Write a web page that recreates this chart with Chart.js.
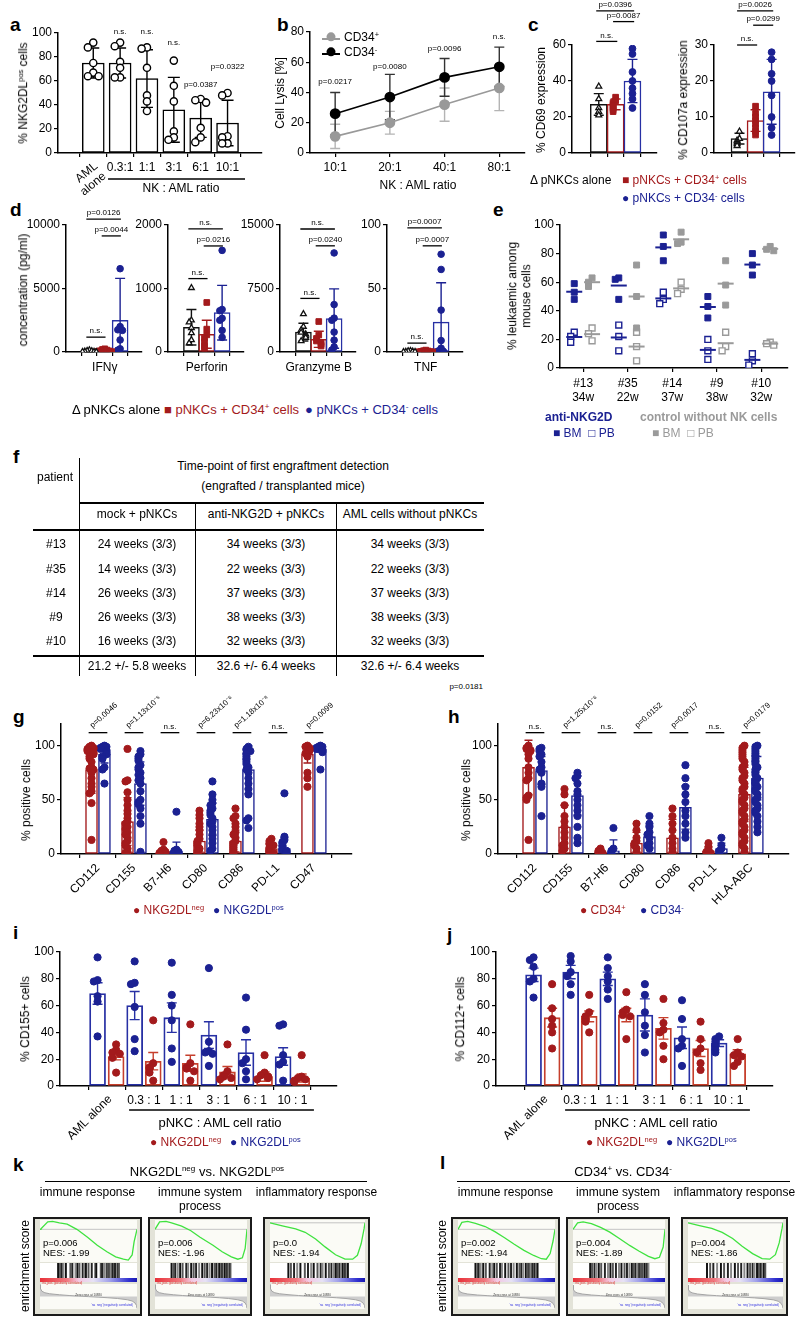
<!DOCTYPE html>
<html lang="en">
<head>
<meta charset="UTF-8">
<title>NKG2DL and CD34 panels</title>
<script src="https://cdn.jsdelivr.net/npm/chart.js"></script>
<style>
  body { margin: 0; background: #fff; font-family: 'Liberation Sans', Arial, sans-serif; color: #000; }
  #fig { position: relative; width: 800px; height: 1325px; overflow: hidden; background: #fff; }
  .t { position: absolute; white-space: nowrap; line-height: 1.15; }
  sup { font-size: 62%; line-height: 0; vertical-align: 0.6em; }
</style>
</head>
<body>
<div id="fig"></div>
<script>
// ---------------- data ----------------
// a
const aCats = ['AML alone', '0.3:1', '1:1', '3:1', '6:1', '10:1'];
const aMean = [75, 75, 62, 36, 29, 25];
const aSD = [12.5, 12.5, 24, 27, 16, 19];
const aPts = [[92, 88, 75, 67, 64, 64], [92, 89, 76, 71, 63, 63], [88, 87, 71, 48, 43, 35],
              [77, 56, 43, 18, 13, 11], [45, 44, 42, 21, 13, 9], [50, 48, 14, 13, 8, 8]];
const aSig = ['', 'n.s.', 'n.s.', 'n.s.', 'p=0.0387', 'p=0.0322'];
const aSigY = [0, 101, 101, 92, 57, 72];

// b
const bCats = ['10:1', '20:1', '40:1', '80:1'];
const bPos = [11, 20, 32, 43];
const bPosSD = [8, 7.5, 11, 15];
const bNeg = [26, 37, 50, 57];
const bNegSD = [14, 15, 12.5, 13];
const bSig = ['p=0.0217', 'p=0.0080', 'p=0.0096', 'n.s.'];
const bSigY = [47, 57, 69, 77];

// c
const c69Mean = [27, 27, 40];
const c69SD = [6, 3, 12];
const c69Pts = [[37, 30, 25, 23, 21], [31, 29, 28, 27, 26, 25, 24, 23], [58, 55, 45, 40, 36, 33, 30, 25]];
const c69Br = [[0, 2, 79, 'p=0.0396'], [1, 2, 73, 'p=0.0087'], [0, 1, 62, 'n.s.']];
const c107Mean = [4, 9, 17];
const c107SD = [1.5, 3, 9];
const c107Pts = [[6, 4, 3.5, 3, 2.5, 2], [13, 11, 10, 9, 8, 7, 6, 5], [28, 26, 22, 20, 16, 10, 7, 5]];
const c107Br = [[0, 2, 39.5, 'p=0.0026'], [1, 2, 35.5, 'p=0.0299'], [0, 1, 30, 'n.s.']];

// d
const dNames = ['IFNγ', 'Perforin', 'Granzyme B', 'TNF'];
const dMax = [10000, 2000, 15000, 100];
const dTicks = [[0, 5000, 10000], [0, 1000, 2000], [0, 7500, 15000], [0, 50, 100]];
const dMean = [[50, 120, 2500], [390, 280, 620], [2350, 1500, 3950], [0.5, 1, 23.5]];
const dSD = [[40, 80, 3300], [280, 220, 430], [1050, 950, 3500], [0.5, 0.6, 31]];
const dPts = [
  [[150, 100, 80, 50, 30, 20, 10], [250, 200, 150, 100, 80, 50, 30], [6560, 2000, 1750, 1700, 950, 250, 150]],
  [[1010, 500, 470, 380, 300, 190, 140], [780, 360, 270, 220, 160, 90, 60], [1600, 670, 650, 530, 500, 340, 230]],
  [[4500, 3000, 2600, 2300, 2100, 1900, 1700, 1300], [3600, 2000, 1600, 1300, 1100, 900, 700], [11700, 5600, 4000, 3750, 2350, 1400, 600, 230]],
  [[1, 0.8, 0.5, 0.3, 0.2, 0.1], [1.5, 1, 0.8, 0.5, 0.3, 0.2, 0.1], [77, 65, 33, 9, 3, 1, 0.5, 0.2]]
];
const dBr = [
  [[0, 2, 10470, 'p=0.0126'], [1, 2, 9140, 'p=0.0044'], [0, 1, 1170, 'n.s.']],
  [[0, 2, 1940, 'n.s.'], [1, 2, 1670, 'p=0.0216'], [0, 1, 1156, 'n.s.']],
  [[0, 2, 14530, 'n.s.'], [1, 2, 12540, 'p=0.0240'], [0, 1, 6330, 'n.s.']],
  [[0, 2, 97.7, 'p=0.0007'], [1, 2, 83.6, 'p=0.0007'], [0, 1, 7, 'n.s.']]
];

// e
const eCats = [['#13', '34w'], ['#35', '22w'], ['#14', '37w'], ['#9', '38w'], ['#10', '32w']];
const eAntiBM = [[59, 53, 48], [63, 62, 48], [93, 85, 75], [50, 43, 35], [80, 72, 65]];
const eAntiPB = [[25, 22, 18], [30, 22, 12], [53, 48, 45], [20, 12, 6], [10, 5, 2]];
const eCtrlBM = [[63, 60, 57], [72, 50, 28], [95, 88, 87], [75, 58, 44], [85, 83, 82]];
const eCtrlPB = [[28, 24, 19], [25, 15, 5], [60, 55, 52], [25, 15, 12], [18, 17, 16]];

// f
const fPatients = ['#13', '#35', '#14', '#9', '#10'];
const fMock = ['24 weeks (3/3)', '14 weeks (3/3)', '26 weeks (3/3)', '26 weeks (3/3)', '16 weeks (3/3)'];
const fAnti = ['34 weeks (3/3)', '22 weeks (3/3)', '37 weeks (3/3)', '38 weeks (3/3)', '32 weeks (3/3)'];
const fAml = ['34 weeks (3/3)', '22 weeks (3/3)', '37 weeks (3/3)', '38 weeks (3/3)', '32 weeks (3/3)'];
const fTotals = ['21.2 +/- 5.8 weeks', '32.6 +/- 6.4 weeks', '32.6 +/- 6.4 weeks'];

// g
const gCats = ['CD112', 'CD155', 'B7-H6', 'CD80', 'CD86', 'PD-L1', 'CD47'];
const gNegMean = [78, 30, 2, 12, 12, 5, 92];
const gNegSD = [22, 22, 3, 10, 10, 4, 8];
const gPosMean = [92, 65, 3, 32, 78, 5, 97];
const gPosSD = [8, 20, 8, 15, 22, 10, 3];
const gNegPts = [
  [100, 99, 98, 97, 97, 96, 95, 94, 93, 92, 90, 88, 85, 80, 79, 78, 75, 70, 65, 62, 58, 56, 47, 13],
  [97, 68, 67, 57, 50, 45, 40, 37, 33, 30, 28, 25, 23, 20, 18, 15, 12, 10, 8, 5, 2, 1],
  [11, 4, 3, 2, 1, 1, 0],
  [40, 36, 33, 28, 25, 22, 18, 14, 12, 10, 8, 5, 3, 1, 0],
  [42, 35, 33, 28, 25, 20, 18, 15, 12, 10, 8, 6, 4, 2, 1],
  [14, 12, 10, 9, 8, 6, 5, 3, 2, 1],
  [100, 99, 98, 97, 96, 95, 93, 90, 75, 70, 62]
];
const gPosPts = [
  [100, 99, 99, 98, 97, 96, 95, 94, 93, 92, 90, 88, 80, 78, 65],
  [95, 92, 90, 88, 86, 82, 80, 78, 75, 73, 70, 68, 65, 58, 50, 48, 46, 42, 35, 28, 2],
  [39, 4, 3, 2, 1, 0, 0],
  [67, 55, 50, 47, 45, 42, 40, 38, 36, 33, 30, 28, 25, 22, 18, 14, 10, 5, 3],
  [99, 97, 96, 95, 93, 92, 90, 88, 87, 85, 83, 80, 78, 75, 70, 65, 60, 55, 33, 31, 24],
  [56, 16, 13, 11, 10, 8, 7, 5, 4, 3, 2, 1],
  [100, 99, 99, 98, 97, 96, 95, 94, 78]
];
const gSig = ['p=0.0046', 'p=1.13x10⁻⁵', 'n.s.', 'p=6.23x10⁻⁶', 'p=1.18x10⁻⁸', 'n.s.', 'p=0.0099'];

// h
const hCats = ['CD112', 'CD155', 'B7-H6', 'CD80', 'CD86', 'PD-L1', 'HLA-ABC'];
const hNegMean = [80, 25, 2, 10, 15, 3, 55];
const hNegSD = [25, 20, 2, 10, 17, 4, 25];
const hPosMean = [77, 54, 3, 16, 43, 5, 70];
const hPosSD = [13, 18, 10, 10, 20, 5, 20];
const hNegPts = [
  [100, 98, 97, 96, 95, 92, 88, 80, 75, 70, 68, 54, 52, 50, 13],
  [60, 55, 45, 35, 30, 25, 20, 15, 10, 8, 5, 3],
  [5, 3, 2, 1, 0],
  [28, 22, 15, 12, 10, 8, 5, 2],
  [42, 35, 28, 22, 15, 10, 5, 2],
  [10, 6, 3, 2, 1],
  [100, 98, 96, 94, 92, 90, 88, 85, 82, 80, 78, 75, 72, 70, 68, 65, 62, 60, 58, 55, 52, 50, 48, 45, 42, 40, 38, 35, 32, 30, 28, 25, 22, 20, 18, 15, 12, 10, 8, 5, 2]
];
const hPosPts = [
  [98, 97, 95, 92, 90, 85, 80, 78, 75, 65, 62, 35],
  [75, 72, 70, 65, 58, 55, 50, 45, 40, 35, 25, 15, 10],
  [24, 5, 3, 1, 0],
  [35, 28, 25, 20, 18, 15, 10, 8, 5],
  [82, 70, 62, 55, 48, 40, 35, 28, 20, 15],
  [15, 8, 5, 3, 2, 0],
  [100, 99, 97, 95, 93, 91, 90, 88, 86, 85, 83, 80, 78, 76, 75, 73, 70, 68, 66, 65, 62, 60, 58, 55, 52, 50, 48, 45, 42, 40, 38, 35, 30, 25, 20]
];
const hSig = ['n.s.', 'p=1.25x10⁻⁶', 'n.s.', 'p=0.0152', 'p=0.0017', 'n.s.', 'p=0.0179'];

// i, j
const ratioCats = ['AML alone', '0.3 : 1', '1 : 1', '3 : 1', '6 : 1', '10 : 1'];
const iPosMean = [69, 60, 51, 38, 25, 22];
const iPosSEM = [8, 10.5, 11, 10, 9.5, 6.5];
const iNegMean = [22, 18.5, 17, 10.5, 7, 6];
const iNegSEM = [2.5, 6.5, 6, 4, 3.5, 3];
const iPosPts = [[96, 79, 78, 67, 63, 37], [93, 77, 76, 59, 35, 26], [92, 68, 60, 49, 28, 18],
                 [88, 33, 26, 25, 24, 15], [66, 42, 20, 17, 11, 5], [46, 45, 23, 18, 16, 4]];
const iNegPts = [[31, 27, 25, 24, 21, 10], [49, 17, 14, 13, 10, 4], [46, 17, 14, 13, 11, 4],
                 [31, 11, 8, 7, 6, 5], [23, 10, 8, 7, 6, 5], [23, 7, 6, 5, 4, 3]];
const jPosMean = [83, 85, 80, 53, 36, 32];
const jPosSEM = [5, 5, 5, 12, 8, 2.5];
const jNegMean = [51, 52, 53, 43, 28, 24];
const jNegSEM = [7, 4, 5, 8, 6, 3];
const jPosPts = [[96, 94, 89, 80, 78, 66], [97, 93, 85, 82, 76, 68], [96, 88, 82, 78, 72, 65],
                 [76, 68, 55, 45, 38, 25], [64, 50, 35, 30, 28, 15], [37, 35, 33, 30, 27, 25]];
const jNegPts = [[76, 58, 50, 45, 40, 28], [68, 55, 52, 50, 48, 40], [70, 57, 55, 53, 52, 35],
                 [65, 47, 42, 40, 30, 20], [48, 35, 28, 25, 17, 12], [35, 25, 23, 22, 18, 15]];

// k, l (GSEA)
const esK1X = [0, 0.01, 0.08, 0.13, 0.2, 0.28, 0.38, 0.49, 0.59, 0.69, 0.78, 0.86, 0.91, 0.95, 0.97, 1];
const esK1Y = [0, 0.01, 0.16, 0.17, 0.14, 0.11, 0, -0.17, -0.34, -0.48, -0.59, -0.64, -0.66, -0.55, -0.27, 0];
const esK2X = [0, 0.05, 0.12, 0.18, 0.29, 0.39, 0.49, 0.63, 0.73, 0.83, 0.9, 0.95, 0.98, 1];
const esK2Y = [0, 0.16, 0.17, 0.14, 0.07, -0.03, -0.17, -0.34, -0.48, -0.59, -0.64, -0.61, -0.41, 0];
const esK3X = [0, 0.13, 0.27, 0.37, 0.48, 0.58, 0.69, 0.79, 0.87, 0.92, 0.96, 0.99, 1];
const esK3Y = [0, -0.055, -0.11, -0.17, -0.29, -0.43, -0.57, -0.65, -0.65, -0.58, -0.37, -0.11, 0];
const esL1X = [0, 0.04, 0.1, 0.18, 0.28, 0.38, 0.48, 0.58, 0.68, 0.78, 0.86, 0.91, 0.95, 0.98, 1];
const esL1Y = [0, 0.15, 0.17, 0.13, 0.06, -0.05, -0.18, -0.32, -0.45, -0.56, -0.63, -0.64, -0.52, -0.25, 0];
const esL2X = [0, 0.05, 0.11, 0.2, 0.3, 0.4, 0.5, 0.62, 0.72, 0.82, 0.89, 0.94, 0.98, 1];
const esL2Y = [0, 0.14, 0.16, 0.12, 0.04, -0.06, -0.19, -0.35, -0.47, -0.58, -0.63, -0.6, -0.38, 0];
const esL3X = [0, 0.12, 0.25, 0.36, 0.47, 0.57, 0.68, 0.78, 0.86, 0.92, 0.96, 0.99, 1];
const esL3Y = [0, -0.05, -0.1, -0.17, -0.28, -0.42, -0.55, -0.64, -0.65, -0.57, -0.36, -0.1, 0];
const esRangeA = [-0.7, 0.2];
const esRangeB = [-0.7, 0.05];
const hitsK1 = [0.03, 0.06, 0.09, 0.11, 0.15, 0.22, 0.25, 0.3, 0.33, 0.36, 0.41, 0.44, 0.46, 0.5, 0.55, 0.6, 0.62, 0.69, 0.71, 0.74, 0.78, 0.79, 0.82, 0.84, 0.87, 0.89, 0.91, 0.94, 0.96, 0.97];
const hitsK2 = [0.02, 0.05, 0.08, 0.12, 0.16, 0.2, 0.26, 0.29, 0.34, 0.38, 0.42, 0.47, 0.52, 0.56, 0.6, 0.64, 0.68, 0.72, 0.75, 0.78, 0.8, 0.83, 0.85, 0.87, 0.89, 0.91, 0.93, 0.95, 0.97, 0.98];
const hitsK3 = [0.04, 0.08, 0.13, 0.18, 0.23, 0.3, 0.35, 0.4, 0.44, 0.5, 0.55, 0.58, 0.63, 0.68, 0.72, 0.76, 0.79, 0.82, 0.85, 0.87, 0.9, 0.92, 0.94, 0.96, 0.98];
const hitsL1 = [0.02, 0.05, 0.07, 0.1, 0.14, 0.18, 0.24, 0.28, 0.31, 0.35, 0.4, 0.43, 0.48, 0.53, 0.57, 0.61, 0.66, 0.7, 0.73, 0.76, 0.8, 0.82, 0.85, 0.87, 0.9, 0.92, 0.94, 0.96, 0.98];
const hitsL2 = [0.03, 0.06, 0.1, 0.13, 0.17, 0.21, 0.27, 0.32, 0.36, 0.4, 0.45, 0.5, 0.54, 0.59, 0.63, 0.67, 0.71, 0.74, 0.77, 0.8, 0.83, 0.85, 0.88, 0.9, 0.92, 0.94, 0.96, 0.98];
const hitsL3 = [0.05, 0.1, 0.15, 0.21, 0.27, 0.32, 0.38, 0.43, 0.49, 0.54, 0.59, 0.64, 0.69, 0.73, 0.77, 0.8, 0.84, 0.87, 0.9, 0.93, 0.95, 0.97];
const rankX = [0, 0.005, 0.02, 0.05, 0.1, 0.2, 0.3, 0.4, 0.5, 0.6, 0.7, 0.8, 0.9, 0.95, 0.98, 0.995, 1];
const rankK = [0.95, 0.62, 0.42, 0.3, 0.22, 0.14, 0.08, 0.03, -0.01, -0.05, -0.1, -0.16, -0.26, -0.36, -0.52, -0.72, -0.95];
const rankL = [0.9, 0.55, 0.38, 0.28, 0.2, 0.12, 0.07, 0.02, -0.02, -0.06, -0.11, -0.17, -0.27, -0.38, -0.55, -0.75, -0.95];
const gseaK = [['p=0.006', 'NES: -1.99'], ['p=0.006', 'NES: -1.96'], ['p=0.0', 'NES: -1.94']];
const gseaL = [['p=0.002', 'NES: -1.94'], ['p=0.004', 'NES: -1.89'], ['p=0.004', 'NES: -1.86']];
const gseaSets = ['immune response', 'immune system<br>process', 'inflammatory response'];

// ---------------- helpers ----------------
const RED = '#a31a1c', BLUE = '#1b2192', GRAY = '#9a9a9a', BLK = '#111';
const RED_B = '#c63f2c', BLUE_B = '#2730a4';
const FF = "'Liberation Sans', Arial, sans-serif";
const fig = document.getElementById('fig');

Chart.defaults.font.family = FF;
Chart.defaults.font.size = 12;
Chart.defaults.color = '#000';
Chart.defaults.animation = false;
Chart.defaults.responsive = false;
Chart.defaults.devicePixelRatio = 1;
Chart.defaults.plugins.legend.display = false;
Chart.defaults.plugins.tooltip.enabled = false;

function T(x, y, html, o = {}) {
  const d = document.createElement('div');
  d.className = 't';
  d.innerHTML = html;
  const ax = o.a === 'l' ? '0' : o.a === 'r' ? '-100%' : '-50%';
  d.style.left = x + 'px';
  d.style.top = y + 'px';
  d.style.transform = `translate(${ax},-50%)` + (o.rot ? ` rotate(${o.rot}deg)` : '');
  d.style.fontSize = (o.s || 12) + 'px';
  if (o.c) d.style.color = o.c;
  if (o.b) d.style.fontWeight = 'bold';
  if (o.ta) d.style.textAlign = o.ta;
  fig.appendChild(d);
}

function L(x1, y1, x2, y2, w = 1, c = '#000') {
  const d = document.createElement('div');
  d.style.cssText = `position:absolute;background:${c};left:${Math.min(x1, x2)}px;top:${Math.min(y1, y2)}px;` +
    `width:${Math.max(Math.abs(x2 - x1), w)}px;height:${Math.max(Math.abs(y2 - y1), w)}px`;
  fig.appendChild(d);
}

function mkCanvas(r, m) {
  const c = document.createElement('canvas');
  const w = r[1] - r[0] + m[0] + m[1], h = r[3] - r[2] + m[2] + m[3];
  c.width = w; c.height = h;
  c.style.cssText = `position:absolute;left:${r[0] - m[0]}px;top:${r[2] - m[2]}px;width:${w}px;height:${h}px`;
  fig.appendChild(c);
  return c;
}

const avg = a => a.reduce((s, v) => s + v, 0) / a.length;

// beeswarm-ish spread of points that sit close together
function swarm(vals, cx, step, d) {
  const placed = [];
  return vals.map(v => {
    const n = placed.filter(p => Math.abs(p - v) < d).length;
    placed.push(v);
    const k = n === 0 ? 0 : (n % 2 ? -1 : 1) * Math.ceil(n / 2);
    return { x: cx + k * step, y: v };
  });
}

function xAxis(min, max, pos, labels, o = {}) {
  return {
    type: 'linear', min, max, bounds: 'data',
    afterBuildTicks: s => { s.ticks = pos.map(v => ({ value: v })); },
    afterFit: s => { s.height = o.h; s.paddingLeft = 0; s.paddingRight = 0; },
    ticks: { autoSkip: false, maxRotation: o.rot || 0, minRotation: o.rot || 0, padding: o.pad ?? 3,
             font: { size: o.fs || 12 }, callback: (v, i) => labels[i] },
    grid: { drawOnChartArea: false, drawTicks: true, tickLength: o.tl ?? 4, color: '#000', lineWidth: 1.2 },
    border: { color: '#000', width: 1.5 }
  };
}

function yAxis(min, max, ticks, o = {}) {
  return {
    type: 'linear', min, max, bounds: 'data',
    afterBuildTicks: s => { s.ticks = ticks.map(v => ({ value: v })); },
    afterFit: s => { s.width = o.w; s.paddingTop = 0; s.paddingBottom = 0; },
    ticks: { padding: 2, font: { size: o.fs || 12 }, callback: v => String(v) },
    grid: { drawOnChartArea: false, drawTicks: true, tickLength: 4, color: '#000', lineWidth: 1.2 },
    border: { color: '#000', width: 1.5 }
  };
}

function opts(m, x, y) {
  return { layout: { padding: { left: 0, right: m[1], top: m[2], bottom: 0 } }, scales: { x, y } };
}

function barDs(data, colors, thick, bw) {
  return { type: 'bar', data, backgroundColor: '#fff', borderColor: colors, borderWidth: bw,
           barThickness: thick, grouped: false, borderSkipped: false, order: 9 };
}

function ptDs(data, c, shape, r, open, bw) {
  return { type: 'scatter', data, pointStyle: shape, pointRadius: r, pointBackgroundColor: open ? '#fff' : c,
           pointBorderColor: c, pointBorderWidth: bw || (open ? 1.3 : 1), order: 1 };
}

function drawErr(ch, list) {
  const ctx = ch.ctx, xs = ch.scales.x, ys = ch.scales.y;
  ctx.save();
  list.forEach(e => {
    const x = xs.getPixelForValue(e.x);
    const y1 = ys.getPixelForValue(Math.max(e.lo, ys.min)), y2 = ys.getPixelForValue(e.hi);
    ctx.strokeStyle = e.c; ctx.lineWidth = e.w || 1.4;
    ctx.beginPath();
    ctx.moveTo(x, y1); ctx.lineTo(x, y2);
    ctx.moveTo(x - e.cap, y2); ctx.lineTo(x + e.cap, y2);
    if (e.lo > ys.min) { ctx.moveTo(x - e.cap, y1); ctx.lineTo(x + e.cap, y1); }
    ctx.stroke();
  });
  ctx.restore();
}

// annotations drawn through the chart's own scales
const deco = {
  id: 'deco',
  beforeDraw(ch) {
    const d = ch.canvas._deco;
    if (d && d.bg) {
      const a = ch.chartArea;
      ch.ctx.save(); ch.ctx.fillStyle = d.bg;
      ch.ctx.fillRect(a.left, a.top, a.right - a.left, a.bottom - a.top);
      ch.ctx.restore();
    }
  },
  beforeDatasetsDraw(ch) {
    const d = ch.canvas._deco;
    if (d && d.hl) {
      const ctx = ch.ctx, ys = ch.scales.y, a = ch.chartArea;
      ctx.save();
      d.hl.forEach(h => {
        const y = ys.getPixelForValue(h.y);
        ctx.strokeStyle = h.c; ctx.lineWidth = 1;
        ctx.beginPath(); ctx.moveTo(a.left, y); ctx.lineTo(a.right, y); ctx.stroke();
      });
      ctx.restore();
    }
    if (d && d.err && !d.errAfterBar) drawErr(ch, d.err);
  },
  afterDatasetDraw(ch, args) {
    const d = ch.canvas._deco;
    if (d && d.err && d.errAfterBar && args.index === 0) drawErr(ch, d.err);
  },
  afterDraw(ch) {
    const d = ch.canvas._deco;
    if (!d) return;
    const ctx = ch.ctx, xs = ch.scales.x, ys = ch.scales.y, bot = ch.chartArea.bottom;
    ctx.save();
    (d.means || []).forEach(mn => {
      const x = xs.getPixelForValue(mn.x), y = ys.getPixelForValue(mn.y);
      ctx.strokeStyle = mn.c; ctx.lineWidth = 2;
      ctx.beginPath(); ctx.moveTo(x - mn.hw, y); ctx.lineTo(x + mn.hw, y); ctx.stroke();
    });
    (d.brk || []).forEach(b => {
      const x1 = xs.getPixelForValue(b.x1), x2 = xs.getPixelForValue(b.x2), y = ys.getPixelForValue(b.y);
      ctx.strokeStyle = '#000'; ctx.lineWidth = 1.3;
      ctx.beginPath(); ctx.moveTo(x1, y); ctx.lineTo(x2, y); ctx.stroke();
      ctx.fillStyle = '#000';
      ctx.font = `${b.s || 8}px ${FF}`;
      if (b.rot) {
        ctx.save();
        ctx.translate((x1 + x2) / 2 - 4, y - 3);
        ctx.rotate(b.rot * Math.PI / 180);
        ctx.textAlign = 'left'; ctx.textBaseline = 'bottom';
        ctx.fillText(b.t, 0, 0);
        ctx.restore();
      } else {
        ctx.textAlign = 'center'; ctx.textBaseline = 'bottom';
        ctx.fillText(b.t, (x1 + x2) / 2, y - 2);
      }
    });
    (d.lines || []).forEach(l => {
      const x1 = xs.getPixelForValue(l.x1), x2 = xs.getPixelForValue(l.x2);
      ctx.strokeStyle = '#000'; ctx.lineWidth = 1.6;
      ctx.beginPath(); ctx.moveTo(x1, bot + l.dy); ctx.lineTo(x2, bot + l.dy); ctx.stroke();
    });
    (d.txt || []).forEach(t => {
      const x = xs.getPixelForValue(t.x) + (t.dx || 0);
      const y = (t.y === undefined ? bot : ys.getPixelForValue(t.y)) + (t.dy || 0);
      ctx.save();
      ctx.translate(x, y);
      if (t.rot) ctx.rotate(t.rot * Math.PI / 180);
      ctx.font = `${t.b ? 'bold ' : ''}${t.s || 8}px ${FF}`;
      ctx.fillStyle = t.c || '#000';
      ctx.textAlign = t.al || 'center';
      ctx.textBaseline = t.bl || 'middle';
      t.t.split('\n').forEach((ln, i) => ctx.fillText(ln, 0, i * (t.lh || (t.s || 8) * 1.15)));
      ctx.restore();
    });
    ctx.restore();
  }
};
Chart.register(deco);

// ---------------- panel letters ----------------
[['a', 10, 25], ['b', 277, 25], ['c', 528, 25], ['d', 10, 210], ['e', 493, 210], ['f', 13, 457],
 ['g', 13, 717], ['h', 448, 717], ['i', 13, 933], ['j', 447, 935], ['k', 13, 1165], ['l', 440, 1163]]
  .forEach(([t, x, y]) => T(x, y, t, { s: 19, b: true, a: 'l' }));

// ---------------- a ----------------
{
  const r = [58, 262, 33, 153], m = [58, 8, 33, 60];
  const cv = mkCanvas(r, m);
  cv._deco = {
    errAfterBar: true,
    err: aMean.map((v, i) => ({ x: i, lo: v - aSD[i], hi: v + aSD[i], c: '#000', cap: 6 })),
    txt: [...aSig.map((t, i) => ({ x: i, y: aSigY[i], t, s: 8 })),
          { x: 0, dx: -1, dy: 7, t: 'AML\nalone', rot: -40, al: 'right', bl: 'top', s: 12, lh: 13 }],
    lines: [{ x1: 0.55, x2: 5.65, dy: 26 }]
  };
  new Chart(cv, {
    type: 'scatter',
    data: { datasets: [
      barDs(aMean.map((v, i) => ({ x: i, y: v })), aMean.map(() => '#000'), 22, 1.5),
      ...aPts.map((p, i) => ptDs(swarm(p, i, 0.2, 5), '#000', 'circle', 3.6, true, 1.4))
    ] },
    options: opts(m, xAxis(-0.68, 5.65, [0, 1, 2, 3, 4, 5], ['', ...aCats.slice(1)], { h: 60 }),
                  yAxis(0, 100, [0, 20, 40, 60, 80, 100], { w: 58 }))
  });
  T(181, 189, 'NK : AML ratio', { s: 12 });
  T(24, 93, '% NKG2DL<sup>pos</sup> cells', { rot: -90 });
}

// ---------------- b ----------------
{
  const r = [310, 525, 32, 153], m = [40, 8, 32, 50];
  const cv = mkCanvas(r, m);
  cv._deco = {
    err: [...bPos.map((v, i) => ({ x: i, lo: v - bPosSD[i], hi: v + bPosSD[i], c: '#b4b4b4', cap: 5 })),
          ...bNeg.map((v, i) => ({ x: i, lo: v - bNegSD[i], hi: v + bNegSD[i], c: '#333', cap: 5 }))],
    txt: bSig.map((t, i) => ({ x: i, y: bSigY[i], t, s: 8 }))
  };
  const lineDs = (vals, c) => ({ type: 'line', data: vals.map((v, i) => ({ x: i, y: v })), borderColor: c,
    borderWidth: 1.6, pointRadius: 4.6, pointBackgroundColor: c, pointBorderColor: c, order: 0 });
  new Chart(cv, {
    type: 'scatter',
    data: { datasets: [lineDs(bNeg, '#000'), lineDs(bPos, '#999')] },
    options: opts(m, xAxis(-0.46, 3.47, [0, 1, 2, 3], bCats, { h: 50 }), yAxis(0, 80, [0, 20, 40, 60, 80], { w: 40 }))
  });
  T(281, 93, 'Cell Lysis [%]', { rot: -90 });
  T(418, 186, 'NK : AML ratio', { s: 12 });
  L(322, 38, 340, 38, 1.5, '#999');
  L(322, 53, 340, 53, 1.5, '#000');
  T(331, 38, '<span style="display:inline-block;width:9px;height:9px;border-radius:50%;background:#999"></span>', { s: 9 });
  T(331, 53, '<span style="display:inline-block;width:9px;height:9px;border-radius:50%;background:#000"></span>', { s: 9 });
  T(344, 38, 'CD34<sup>+</sup>', { a: 'l' });
  T(344, 53, 'CD34<sup>-</sup>', { a: 'l' });
}

// ---------------- c ----------------
function cChart(r, mean, sd, pts, max, ticks, brk, dd) {
  const m = [36, 4, 48, 20];
  const cv = mkCanvas(r, m);
  const cols = [BLK, RED, BLUE];
  cv._deco = {
    errAfterBar: true,
    err: mean.map((v, i) => ({ x: i, lo: v - sd[i], hi: v + sd[i], c: cols[i], cap: 5 })),
    brk: brk.map(b => ({ x1: b[0] - 0.15, x2: b[1] + 0.1, y: b[2], t: b[3] }))
  };
  new Chart(cv, {
    type: 'scatter',
    data: { datasets: [
      barDs(mean.map((v, i) => ({ x: i, y: v })), [BLK, RED, BLUE_B], 17, 1.5),
      ...pts.map((p, i) => ptDs(swarm(p, i, 0.15, dd), cols[i], ['triangle', 'rect', 'circle'][i], i === 1 ? 4 : 3.4, i === 0))
    ] },
    options: opts(m, xAxis(-0.75, 2.6, [0, 1, 2], ['', '', ''], { h: 20 }), yAxis(0, max, ticks, { w: 36 }))
  });
}
cChart([572, 658, 45, 153], c69Mean, c69SD, c69Pts, 60, [0, 20, 40, 60], c69Br, 2);
cChart([714, 796, 45, 153], c107Mean, c107SD, c107Pts, 30, [0, 10, 20, 30], c107Br, 1);
T(542, 100, '% CD69 expression', { rot: -90 });
T(684, 100, '% CD107a expression', { rot: -90 });
T(530, 181, 'Δ pNKCs alone', { a: 'l', s: 12 });
T(622, 181, '■ pNKCs + CD34<sup>+</sup> cells', { a: 'l', s: 12, c: RED });
T(622, 199, '● pNKCs + CD34<sup>-</sup> cells', { a: 'l', s: 12, c: BLUE });

// ---------------- d ----------------
const dX = [66, 168, 280, 387];
dNames.forEach((nm, k) => {
  const r = [dX[k], dX[k] + 76, 225, 352], m = [42, 6, 40, 40];
  const cv = mkCanvas(r, m);
  const cols = [BLK, RED, BLUE];
  cv._deco = {
    errAfterBar: true,
    err: dMean[k].map((v, i) => ({ x: i, lo: v - dSD[k][i], hi: v + dSD[k][i], c: cols[i], cap: 5 })),
    brk: dBr[k].map(b => ({ x1: b[0] - 0.2, x2: b[1] + 0.05, y: b[2], t: b[3] }))
  };
  new Chart(cv, {
    type: 'scatter',
    data: { datasets: [
      barDs(dMean[k].map((v, i) => ({ x: i, y: v })), [BLK, RED, BLUE_B], 16, 1.5),
      ...dPts[k].map((p, i) => ptDs(swarm(p, i, 0.15, dMax[k] * 0.04), cols[i], ['triangle', 'rect', 'circle'][i], i === 1 ? 4 : 3.3, i === 0))
    ] },
    options: opts(m, xAxis(-0.7, 2.6, [0, 1, 2], ['', nm, ''], { h: 40, pad: 4 }), yAxis(0, dMax[k], dTicks[k], { w: 42 }))
  });
});
T(24, 290, 'concentration (pg/ml)', { rot: -90 });
T(72, 410, 'Δ pNKCs alone', { a: 'l', s: 13 });
T(164, 410, '■ pNKCs + CD34<sup>+</sup> cells', { a: 'l', s: 13, c: RED });
T(305, 410, '● pNKCs + CD34<sup>-</sup> cells', { a: 'l', s: 13, c: BLUE });

// ---------------- e ----------------
{
  const r = [560, 788, 225, 368], m = [40, 10, 10, 45];
  const cv = mkCanvas(r, m);
  const ds = [], means = [];
  eCats.forEach((_, i) => {
    [[eAntiBM, eAntiPB, BLUE, -0.2], [eCtrlBM, eCtrlPB, GRAY, 0.2]].forEach(([bm, pb, c, off]) => {
      ds.push(ptDs(swarm(bm[i], i + off, 0.08, 5), c, 'rect', 4.2, false));
      ds.push(ptDs(swarm(pb[i], i + off, 0.08, 5), c, 'rect', 4.2, true, 1.4));
      means.push({ x: i + off, y: avg(bm[i]), hw: 8, c });
      means.push({ x: i + off, y: avg(pb[i]), hw: 8, c });
    });
  });
  cv._deco = { means };
  new Chart(cv, {
    type: 'scatter',
    data: { datasets: ds },
    options: opts(m, xAxis(-0.52, 4.6, [0, 1, 2, 3, 4], eCats, { h: 45, pad: 4 }),
                  yAxis(0, 100, [0, 20, 40, 60, 80, 100], { w: 40 }))
  });
  T(520, 296, '% leukaemic among<br>mouse cells', { rot: -90, ta: 'center' });
  T(545, 418, 'anti-NKG2D', { a: 'l', b: true, c: BLUE, s: 12 });
  T(640, 418, 'control without NK cells', { a: 'l', b: true, c: GRAY, s: 12 });
  T(553, 434, '■ BM &nbsp;□ PB', { a: 'l', c: BLUE, s: 12 });
  T(652, 434, '■ BM &nbsp;□ PB', { a: 'l', c: GRAY, s: 12 });
}

// ---------------- f (table) ----------------
{
  L(79, 458, 79, 676, 1.2);
  L(79, 502, 484, 502, 1.5);
  L(33, 529, 484, 529, 1.5);
  L(195, 502, 195, 676, 1.2);
  L(336, 502, 336, 676, 1.2);
  L(33, 655, 484, 655, 1.5);
  T(55, 478, 'patient');
  T(283, 467, 'Time-point of first engraftment detection');
  T(283, 487, '(engrafted / transplanted mice)');
  T(137, 515, 'mock + pNKCs');
  T(266, 515, 'anti-NKG2D + pNKCs');
  T(410, 515, 'AML cells without pNKCs');
  const rowY = [545, 570, 594, 618, 642];
  fPatients.forEach((p, i) => {
    T(56, rowY[i], p);
    T(137, rowY[i], fMock[i]);
    T(266, rowY[i], fAnti[i]);
    T(410, rowY[i], fAml[i]);
  });
  T(137, 667, fTotals[0]);
  T(266, 667, fTotals[1]);
  T(410, 667, fTotals[2]);
  T(483, 687, 'p=0.0181', { a: 'r', s: 8 });
}

// ---------------- g, h ----------------
function surfChart(r, cats, negM, negSD, posM, posSD, negP, posP, sig) {
  const m = [40, 8, 50, 60];
  const cv = mkCanvas(r, m);
  const bars = [], cols = [], err = [], ds = [];
  cats.forEach((_, i) => {
    bars.push({ x: i - 0.18, y: negM[i] }); cols.push(RED);
    bars.push({ x: i + 0.18, y: posM[i] }); cols.push(BLUE);
    err.push({ x: i - 0.18, lo: negM[i] - negSD[i], hi: negM[i] + negSD[i], c: RED, cap: 4 });
    err.push({ x: i + 0.18, lo: posM[i] - posSD[i], hi: posM[i] + posSD[i], c: BLUE, cap: 4 });
    ds.push(ptDs(swarm(negP[i], i - 0.18, 0.055, 3), RED, 'circle', 3.6));
    ds.push(ptDs(swarm(posP[i], i + 0.18, 0.055, 3), BLUE, 'circle', 3.6));
  });
  cv._deco = {
    errAfterBar: true, err,
    brk: sig.map((t, i) => ({ x1: i - 0.26, x2: i + 0.26, y: 112, t, rot: t === 'n.s.' ? 0 : -42 }))
  };
  new Chart(cv, {
    type: 'scatter',
    data: { datasets: [barDs(bars, cols, 12, 1.5), ...ds] },
    options: opts(m, xAxis(-0.45, 6.48, cats.map((_, i) => i), cats, { h: 60, rot: 45 }),
                  yAxis(0, 120, [0, 50, 100], { w: 40 }))
  });
}
surfChart([61, 352, 724, 854], gCats, gNegMean, gNegSD, gPosMean, gPosSD, gNegPts, gPosPts, gSig);
surfChart([498, 789, 724, 854], hCats, hNegMean, hNegSD, hPosMean, hPosSD, hNegPts, hPosPts, hSig);
T(27, 800, '% positive cells', { rot: -90 });
T(467, 800, '% positive cells', { rot: -90 });
T(133, 911, '● NKG2DL<sup>neg</sup>', { a: 'l', c: RED });
T(213, 911, '● NKG2DL<sup>pos</sup>', { a: 'l', c: BLUE });
T(580, 911, '● CD34<sup>+</sup>', { a: 'l', c: RED });
T(640, 911, '● CD34<sup>-</sup>', { a: 'l', c: BLUE });

// ---------------- i, j ----------------
function ratioChart(r, posM, posE, negM, negE, posP, negP) {
  const m = [60, 8, 20, 80];
  const cv = mkCanvas(r, m);
  const bars = [], cols = [], err = [], ds = [];
  posM.forEach((v, i) => {
    bars.push({ x: i - 0.25, y: v }); cols.push(BLUE_B);
    bars.push({ x: i + 0.25, y: negM[i] }); cols.push(RED_B);
    err.push({ x: i - 0.25, lo: v - posE[i], hi: v + posE[i], c: BLUE_B, cap: 5 });
    err.push({ x: i + 0.25, lo: negM[i] - negE[i], hi: negM[i] + negE[i], c: RED_B, cap: 5 });
    ds.push(ptDs(swarm(posP[i], i - 0.25, 0.1, 4), BLUE, 'circle', 3.6));
    ds.push(ptDs(swarm(negP[i], i + 0.25, 0.1, 4), RED, 'circle', 3.6));
  });
  cv._deco = {
    errAfterBar: true, err,
    txt: [{ x: 0, dx: -1, dy: 7, t: ratioCats[0], rot: -45, al: 'right', bl: 'top', s: 12 }],
    lines: [{ x1: 0.6, x2: 5.58, dy: 24 }]
  };
  new Chart(cv, {
    type: 'scatter',
    data: { datasets: [barDs(bars, cols, 16, 1.8), ...ds] },
    options: opts(m, xAxis(-0.64, 5.58, [0, 1, 2, 3, 4, 5], ['', ...ratioCats.slice(1)], { h: 80 }),
                  yAxis(0, 100, [0, 20, 40, 60, 80, 100], { w: 60 }))
  });
}
ratioChart([60, 337, 952, 1086], iPosMean, iPosSEM, iNegMean, iNegSEM, iPosPts, iNegPts);
ratioChart([496, 773, 952, 1086], jPosMean, jPosSEM, jNegMean, jNegSEM, jPosPts, jNegPts);
T(26, 1019, '% CD155+ cells', { rot: -90 });
T(461, 1019, '% CD112+ cells', { rot: -90 });
T(220, 1123, 'pNKC : AML cell ratio', { s: 13 });
T(656, 1123, 'pNKC : AML cell ratio', { s: 13 });
T(150, 1143, '● NKG2DL<sup>neg</sup>', { a: 'l', c: RED });
T(230, 1143, '● NKG2DL<sup>pos</sup>', { a: 'l', c: BLUE });
T(586, 1143, '● NKG2DL<sup>neg</sup>', { a: 'l', c: RED });
T(666, 1143, '● NKG2DL<sup>pos</sup>', { a: 'l', c: BLUE });

// ---------------- k, l (GSEA) ----------------
function tiny(r, ds, xr, yr, dec) {
  const cv = mkCanvas(r, [0, 0, 0, 0]);
  cv._deco = dec || {};
  new Chart(cv, {
    type: 'scatter', data: { datasets: ds },
    options: { layout: { padding: 0 }, scales: {
      x: { type: 'linear', display: false, min: xr[0], max: xr[1] },
      y: { type: 'linear', display: false, min: yr[0], max: yr[1] } } }
  });
}

function gsea(x0, x1, esX, esY, esR, hits, rk, st) {
  const y0 = 1217;
  const b = document.createElement('div');
  b.style.cssText = `position:absolute;left:${x0}px;top:${y0}px;width:${x1 - x0 - 4}px;height:95px;border:2px solid #1b1b1b;background:#e3e3d8`;
  fig.appendChild(b);
  const l = x0 + 7, r = x1 - 5;
  tiny([l, r, y0 + 3, y0 + 45],
       [{ type: 'line', data: esX.map((v, i) => ({ x: v, y: esY[i] })), borderColor: '#3fe23f', borderWidth: 1.3, pointRadius: 0 }],
       [0, 1], esR, { bg: '#fbfbf6', hl: [{ y: 0, c: '#c4c4c4' }] });
  tiny([l, r, y0 + 46, y0 + 61],
       [{ type: 'bar', data: hits.map(h => ({ x: h, y: 1 })), backgroundColor: hits.map((_, i) => ['#111', '#555', '#222', '#888'][i % 4]),
          barThickness: 1.3, borderWidth: 0 }],
       [0, 1], [0, 1], { bg: '#fff' });
  const g = document.createElement('div');
  g.style.cssText = `position:absolute;left:${l}px;top:${y0 + 61}px;width:${r - l}px;height:4px;` +
    'background:linear-gradient(to right,#e8323a 0%,#f07a80 28%,#f3c8e2 40%,#e6e2f5 55%,#a0a0ea 72%,#3030d0 92%,#1818b0 100%)';
  fig.appendChild(g);
  tiny([l, r, y0 + 67, y0 + 92],
       [{ type: 'line', data: rankX.map((v, i) => ({ x: v, y: rk[i] })), borderColor: '#a5a5a5', borderWidth: 1,
          pointRadius: 0, fill: 'origin', backgroundColor: '#cdcdcd' }],
       [0, 1], [-1, 1], { bg: '#fbfbf6' });
  T(x0 + 10, y0 + 26, st[0], { s: 9.5, a: 'l' });
  T(x0 + 10, y0 + 36, st[1], { s: 9.5, a: 'l' });
  T(l + 2, y0 + 67, "'na_pos' (positively correlated)", { s: 3, a: 'l', c: '#e03030' });
  T((l + r) / 2, y0 + 79, 'Zero cross at 10880', { s: 3, c: '#333' });
  T(r - 4, y0 + 89, "'na_neg' (negatively correlated)", { s: 3, a: 'r', c: '#3030e0' });
}

const kBoxes = [[33, 142], [148, 252], [263, 370]];
const lBoxes = [[451, 560], [566, 670], [681, 788]];
gsea(33, 142, esK1X, esK1Y, esRangeA, hitsK1, rankK, gseaK[0]);
gsea(148, 252, esK2X, esK2Y, esRangeA, hitsK2, rankK, gseaK[1]);
gsea(263, 370, esK3X, esK3Y, esRangeB, hitsK3, rankK, gseaK[2]);
gsea(451, 560, esL1X, esL1Y, esRangeA, hitsL1, rankL, gseaL[0]);
gsea(566, 670, esL2X, esL2Y, esRangeA, hitsL2, rankL, gseaL[1]);
gsea(681, 788, esL3X, esL3Y, esRangeB, hitsL3, rankL, gseaL[2]);
[kBoxes, lBoxes].forEach(bx => {
  bx.forEach(([x0, x1], i) => {
    const cx = (x0 + x1) / 2;
    if (i === 1) T(cx, 1200, gseaSets[i], { s: 12, ta: 'center' });
    else T(cx, 1193, gseaSets[i], { s: 12 });
  });
});
T(207, 1172, 'NKG2DL<sup>neg</sup> vs. NKG2DL<sup>pos</sup>', { s: 13 });
L(45, 1181, 367, 1181, 1.3);
T(623, 1172, 'CD34<sup>+</sup> vs. CD34<sup>-</sup>', { s: 13 });
L(457, 1181, 790, 1181, 1.3);
T(26, 1266, 'enrichment score', { rot: -90, s: 12 });
T(443, 1266, 'enrichment score', { rot: -90, s: 12 });
</script>
</body>
</html>
